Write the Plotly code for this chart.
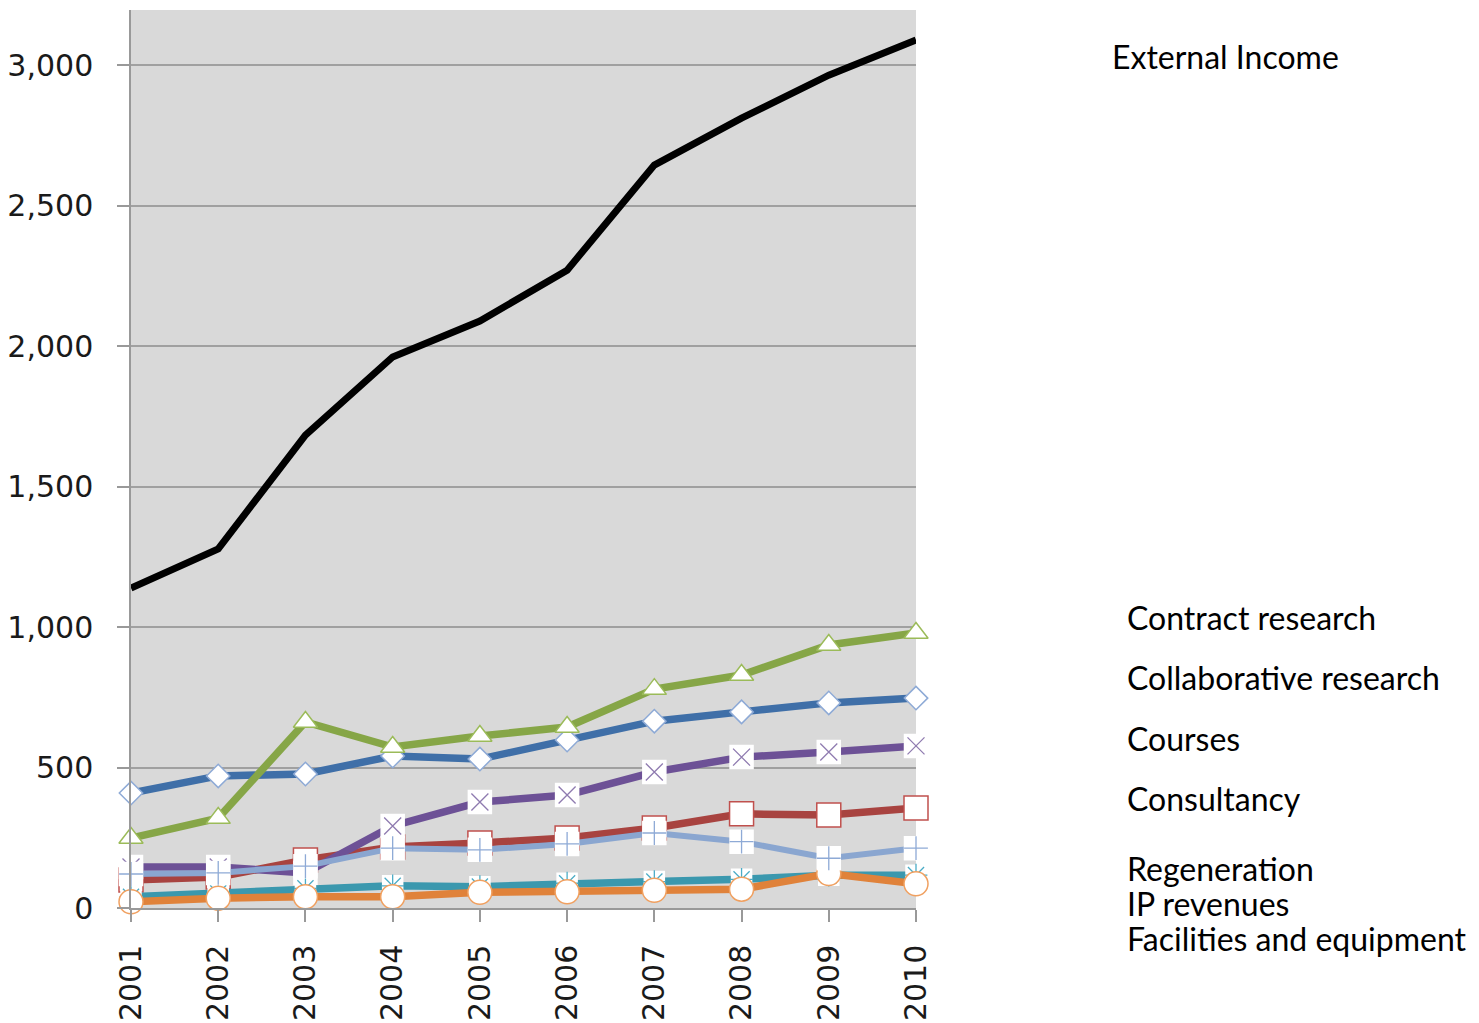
import plotly.graph_objects as go

years = [2001, 2002, 2003, 2004, 2005, 2006, 2007, 2008, 2009, 2010]
year_labels = [str(y) for y in years]

external_income = [1139, 1278, 1683, 1961, 2089, 2270, 2644, 2811, 2964, 3089]
s1_blue = [409, 470, 477, 541, 530, 598, 665, 698, 730, 747]
s2_red = [100, 110, 171, 217, 231, 249, 285, 335, 331, 356]
s3_green = [249, 320, 662, 573, 612, 644, 779, 829, 936, 979]
s4_purple = [146, 146, 125, 292, 377, 402, 484, 537, 555, 577]
s5_teal = [40, 52, 70, 79, 76, 88, 94, 102, 117, 117]
s6_orange = [22, 35, 40, 40, 56, 58, 63, 67, 123, 86]
s7_lightblue = [121, 125, 149, 213, 207, 228, 267, 236, 177, 213]

labels_top = ["External Income"]
labels_right = ["Contract research", "Collaborative research", "Courses", "Consultancy"]
labels_bottom = ["Regeneration", "IP revenues", "Facilities and equipment"]

W, H = 1479, 1023
L, R, T, B = 131, 916, 10, 908

fig = go.Figure()

def add_series(vals, color, symbol, size, outline, overlay=None, osize=None, ocolor=None, lw=7.5):
    fig.add_trace(go.Scatter(
        x=years, y=vals, mode="lines+markers",
        line=dict(color=color, width=lw),
        marker=dict(symbol=symbol, size=size, color="white",
                    line=dict(color=outline, width=1.5 if outline else 0)),
        cliponaxis=False, showlegend=False, hoverinfo="skip"))
    if overlay:
        fig.add_trace(go.Scatter(
            x=years, y=vals, mode="markers",
            marker=dict(symbol=overlay, size=osize, color=ocolor,
                        line=dict(color=ocolor, width=1.3)),
            cliponaxis=False, showlegend=False, hoverinfo="skip"))

add_series(s1_blue, "#3f6fa8", "diamond", 18, "#8eaad6")
add_series(s2_red, "#a84340", "square", 24, "#c0504d")
add_series(s3_green, "#86a647", "triangle-up", 21, "#9bbb59")
add_series(s4_purple, "#6d5196", "square", 23, "white", "x-thin-open", 17, "#8f7bb0")
add_series(s5_teal, "#3b98ae", "square", 20, "white", "asterisk-open", 19, "#4bacc6")
add_series(s6_orange, "#e0823a", "circle", 24, "#f0a060")
add_series(s7_lightblue, "#8aa6d0", "square", 23, "white", "cross-thin-open", 17, "#8eaad6", lw=6)

fig.add_trace(go.Scatter(
    x=years, y=external_income, mode="lines",
    line=dict(color="black", width=7),
    cliponaxis=False, showlegend=False, hoverinfo="skip"))

def px_x(px):
    return (px - L) / (R - L)

def px_y(py):
    return (B - py) / (B - T)

annots = []
font = dict(family="Lato, Noto Sans, sans-serif", size=32, color="black")
annots.append(dict(text=labels_top[0], x=px_x(1110), y=px_y(57)))
for t, py in zip(labels_right, [617, 677, 738, 798]):
    annots.append(dict(text=t, x=px_x(1125), y=px_y(py)))
for t, py in zip(labels_bottom, [868, 903, 938]):
    annots.append(dict(text=t, x=px_x(1125), y=px_y(py)))
for a in annots:
    a.update(xref="paper", yref="paper", xanchor="left", yanchor="middle",
             showarrow=False, font=font)

fig.update_layout(
    width=W, height=H,
    margin=dict(l=L, r=W - R, t=T, b=H - B, autoexpand=False),
    paper_bgcolor="white", plot_bgcolor="#d9d9d9",
    annotations=annots,
    xaxis=dict(range=[2001, 2010], tickmode="array", tickvals=years, ticktext=year_labels,
               tickangle=-90, ticks="outside", ticklen=12, tickcolor="#999999", tickwidth=1.5,
               showline=True, linecolor="#999999", linewidth=1.5,
               showgrid=False, zeroline=False, ticklabelstandoff=11,
               tickfont=dict(family="DejaVu Sans", size=30, color="#1a1a1a")),
    yaxis=dict(range=[0, 3196], tickmode="array", tickvals=[0, 500, 1000, 1500, 2000, 2500, 3000],
               ticktext=["0", "500", "1,000", "1,500", "2,000", "2,500", "3,000"],
               ticks="outside", ticklen=12, tickcolor="#999999", tickwidth=1.5,
               showline=True, linecolor="#999999", linewidth=1.5,
               showgrid=True, gridcolor="#a0a0a0", gridwidth=1.5, zeroline=False,
               ticklabelstandoff=18,
               tickfont=dict(family="DejaVu Sans", size=30, color="#1a1a1a")),
)

fig.write_html("out.html")
